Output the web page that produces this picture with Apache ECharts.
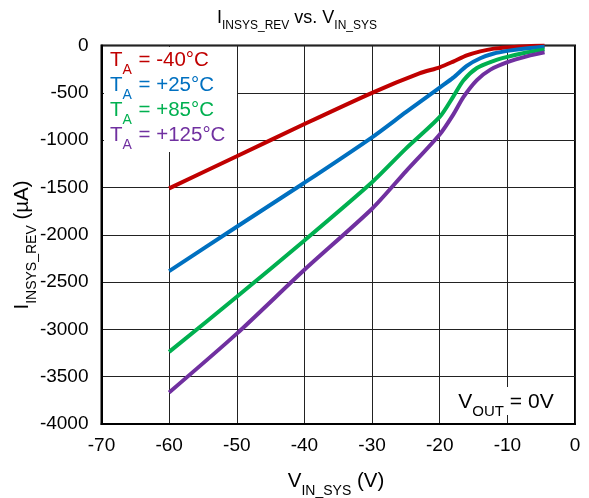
<!DOCTYPE html>
<html>
<head>
<meta charset="utf-8">
<script src="https://cdn.jsdelivr.net/npm/echarts@6/dist/echarts.min.js"></script>
<style>
html,body{margin:0;padding:0;background:#fff;}
#chart{width:589px;height:498px;}
</style>
</head>
<body>
<div id="chart"></div>
<script>
// Data
const vRed = [-60, -50, -40, -30, -23, -20, -18, -16, -14, -12, -10, -7, -4.5];
const iRed = [-1510, -1170, -830, -500, -295, -230, -170, -105, -62, -33, -20, -7, 0];

const vBlue = [-60, -50, -40, -30, -25, -20, -18, -16, -14, -12, -10, -7, -4.5];
const iBlue = [-2385, -1915, -1450, -970, -705, -445, -340, -215, -135, -85, -57, -28, -12];

const vGreen = [-60, -50, -40, -30, -25, -20, -18, -16.5, -14.5, -12, -10, -7, -4.5];
const iGreen = [-3238, -2656, -2060, -1445, -1090, -755, -540, -370, -238, -162, -120, -72, -41];

const vPurple = [-60, -50, -40, -30, -25, -20, -18, -16.5, -14.5, -12.5, -10, -7, -4.5];
const iPurple = [-3667, -3045, -2370, -1725, -1330, -940, -730, -545, -365, -255, -175, -112, -73];

const seriesNames = ['-40°C', '+25°C', '+85°C', '+125°C'];
const seriesColors = ['#c00000', '#0070c0', '#00b050', '#7030a0'];

const xTicks = {min: -70, max: 0, interval: 10};
const yTicks = {min: -4000, max: 0, interval: 500};

function pairs(v, i) { return v.map((x, k) => [x, i[k]]); }
const allData = [pairs(vRed, iRed), pairs(vBlue, iBlue), pairs(vGreen, iGreen), pairs(vPurple, iPurple)];

const chart = echarts.init(document.getElementById('chart'), null, {renderer: 'canvas'});
const FONT = 'Liberation Sans, Arial, sans-serif';

const legendLines = seriesNames.map((n, k) => '{c' + k + '|T}{s' + k + '|A}{c' + k + '| = ' + n + '}').join('\n');
const legendRich = {};
seriesColors.forEach((c, k) => {
  legendRich['c' + k] = {fontSize: 20.5, fontFamily: FONT, fill: c, lineHeight: 25, verticalAlign: 'bottom'};
  legendRich['s' + k] = {fontSize: 14, fontFamily: FONT, fill: c, lineHeight: 25, verticalAlign: 'bottom', padding: [0, 1, -6, 0]};
});

chart.setOption({
  animation: false,
  backgroundColor: '#fff',
  grid: {left: 101.5, right: 14, top: 45.5, bottom: 74, show: true, borderColor: '#000', borderWidth: 2, containLabel: false},
  xAxis: {
    type: 'value', min: xTicks.min, max: xTicks.max, interval: xTicks.interval,
    axisLine: {show: true, onZero: false, lineStyle: {color: '#000', width: 2}},
    axisTick: {show: false},
    axisLabel: {fontSize: 19, fontFamily: FONT, color: '#000', margin: 12, formatter: v => String(v)},
    splitLine: {show: true, lineStyle: {color: '#222', width: 1}}
  },
  yAxis: {
    type: 'value', min: yTicks.min, max: yTicks.max, interval: yTicks.interval,
    axisLine: {show: true, onZero: false, lineStyle: {color: '#000', width: 2}},
    axisTick: {show: false},
    axisLabel: {fontSize: 19, fontFamily: FONT, color: '#000', margin: 13, formatter: v => String(v)},
    splitLine: {show: true, lineStyle: {color: '#222', width: 1}}
  },
  series: allData.map((d, k) => ({
    type: 'line', name: seriesNames[k], data: d, showSymbol: false, smooth: 0.25,
    lineStyle: {color: seriesColors[k], width: 4}, z: 3
  })),
  graphic: [
    {
      type: 'text', x: 297, y: 15, z: 10,
      style: {
        text: '{m|I}{s|INSYS_REV}{m| vs. V}{s|IN_SYS}', align: 'center', verticalAlign: 'middle',
        rich: {
          m: {fontSize: 18, fontFamily: FONT, fill: '#000', verticalAlign: 'bottom', lineHeight: 24},
          s: {fontSize: 12, fontFamily: FONT, fill: '#000', verticalAlign: 'bottom', lineHeight: 24, padding: [0, 0, -5, 0]}
        }
      }
    },
    {
      type: 'text', x: 336, y: 479, z: 10,
      style: {
        text: '{m|V}{s|IN_SYS}{m| (V)}', align: 'center', verticalAlign: 'middle',
        rich: {
          m: {fontSize: 20.5, fontFamily: FONT, fill: '#000', verticalAlign: 'bottom', lineHeight: 26},
          s: {fontSize: 14, fontFamily: FONT, fill: '#000', verticalAlign: 'bottom', lineHeight: 26, padding: [0, 0, -6, 0]}
        }
      }
    },
    {
      type: 'text', x: 20, y: 245, rotation: Math.PI / 2, z: 10,
      style: {
        text: '{m|I}{s|INSYS_REV}{m| (µA)}', align: 'center', verticalAlign: 'middle',
        rich: {
          m: {fontSize: 20.5, fontFamily: FONT, fill: '#000', verticalAlign: 'bottom', lineHeight: 26},
          s: {fontSize: 14, fontFamily: FONT, fill: '#000', verticalAlign: 'bottom', lineHeight: 26, padding: [0, 0, -6, 0]}
        }
      }
    },
    {
      type: 'rect', shape: {x: 104, y: 47, width: 133, height: 105}, style: {fill: '#fff'}, z: 5
    },
    {
      type: 'text', x: 110, y: 46, z: 10,
      style: {text: legendLines, rich: legendRich}
    },
    {
      type: 'text', x: 506, y: 401, z: 10,
      style: {
        text: '{m|V}{s|OUT}{m| = 0V}', align: 'center', verticalAlign: 'middle',
        backgroundColor: '#fff', padding: [2, 3, 2, 3],
        rich: {
          m: {fontSize: 21, fontFamily: FONT, fill: '#000', verticalAlign: 'bottom', lineHeight: 24},
          s: {fontSize: 15, fontFamily: FONT, fill: '#000', verticalAlign: 'bottom', lineHeight: 24, padding: [0, 0, -6, 0]}
        }
      }
    }
  ]
});
</script>
</body>
</html>
